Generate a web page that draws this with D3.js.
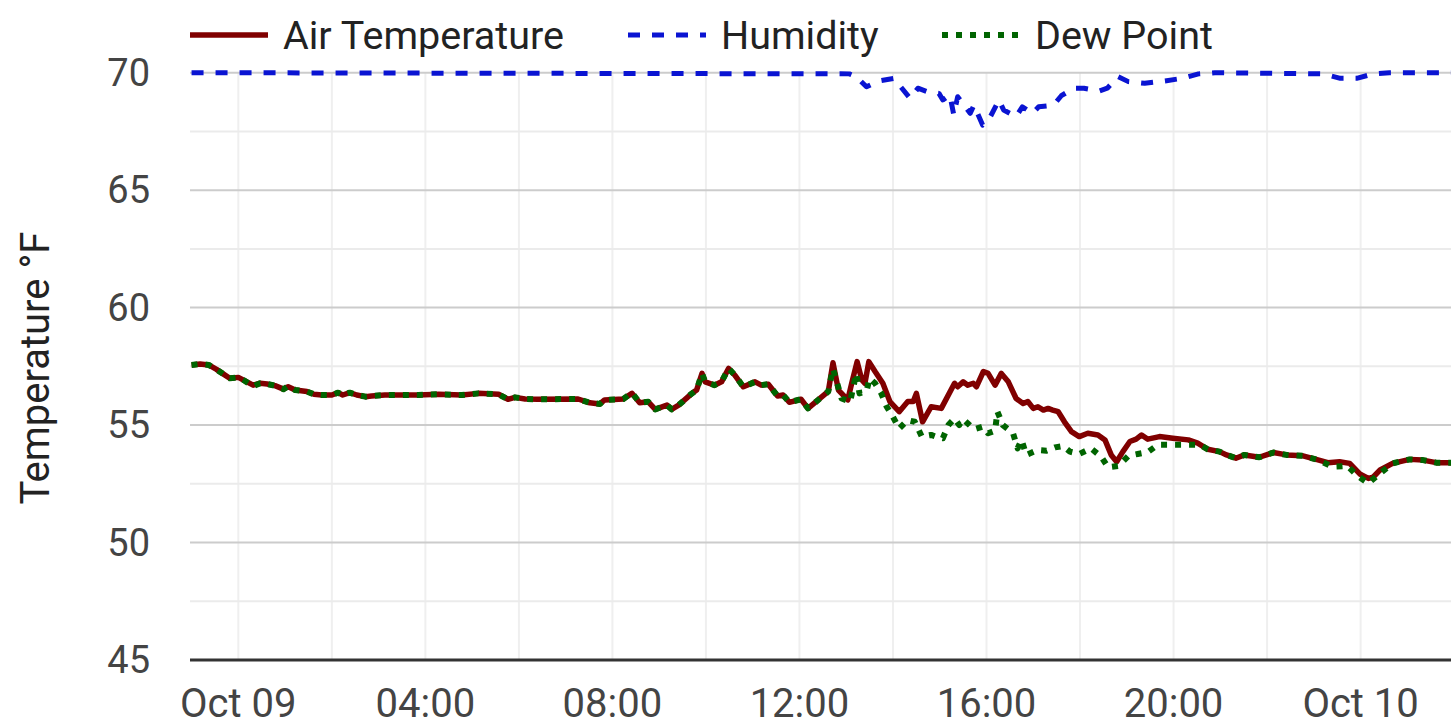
<!DOCTYPE html>
<html>
<head>
<meta charset="utf-8">
<script src="https://cdn.jsdelivr.net/npm/d3@7"></script>
<style>
  body { margin: 0; background: #fff; }
  svg { display: block; font-family: Roboto, "Noto Sans", sans-serif; }
</style>
</head>
<body>
<div id="chart"></div>
<script>
// series names for the legend
var seriesNames = ["Air Temperature", "Humidity", "Dew Point"];

// air temperature
var airTimes = ["10-08 23:00","10-08 23:11","10-08 23:22","10-08 23:32","10-08 23:41","10-08 23:49",
  "10-09 00:00","10-09 00:08","10-09 00:19","10-09 00:28","10-09 00:37","10-09 00:47","10-09 00:58",
  "10-09 01:04","10-09 01:13","10-09 01:28","10-09 01:37","10-09 01:47","10-09 02:00","10-09 02:08",
  "10-09 02:14","10-09 02:23","10-09 02:32","10-09 02:43","10-09 02:51","10-09 03:08","10-09 03:51",
  "10-09 04:17","10-09 04:47","10-09 05:08","10-09 05:34","10-09 05:46","10-09 05:55","10-09 06:08",
  "10-09 06:25","10-09 07:16","10-09 07:31","10-09 07:44","10-09 07:50","10-09 08:14","10-09 08:25",
  "10-09 08:35","10-09 08:46","10-09 08:55","10-09 09:10","10-09 09:16","10-09 09:25","10-09 09:41",
  "10-09 09:48","10-09 09:55","10-09 09:59","10-09 10:11","10-09 10:20","10-09 10:29","10-09 10:37",
  "10-09 10:48","10-09 11:03","10-09 11:11","10-09 11:20","10-09 11:32","10-09 11:39","10-09 11:47",
  "10-09 12:02","10-09 12:11","10-09 12:24","10-09 12:37","10-09 12:43","10-09 12:50","10-09 13:02",
  "10-09 13:07","10-09 13:14","10-09 13:20","10-09 13:24","10-09 13:29","10-09 13:37","10-09 13:47",
  "10-09 13:56","10-09 14:08","10-09 14:19","10-09 14:26","10-09 14:30","10-09 14:38","10-09 14:49",
  "10-09 15:02","10-09 15:19","10-09 15:23","10-09 15:30","10-09 15:36","10-09 15:43","10-09 15:47",
  "10-09 15:56","10-09 16:02","10-09 16:11","10-09 16:19","10-09 16:28","10-09 16:38","10-09 16:47",
  "10-09 16:53","10-09 17:00","10-09 17:06","10-09 17:13","10-09 17:19","10-09 17:25","10-09 17:32",
  "10-09 17:40","10-09 17:49","10-09 17:59","10-09 18:10","10-09 18:23","10-09 18:32","10-09 18:40",
  "10-09 18:47","10-09 18:55","10-09 19:04","10-09 19:12","10-09 19:19","10-09 19:27","10-09 19:42",
  "10-09 19:59","10-09 20:19","10-09 20:31","10-09 20:44","10-09 20:59","10-09 21:08","10-09 21:20",
  "10-09 21:31","10-09 21:50","10-09 22:08","10-09 22:25","10-09 22:46","10-09 23:03","10-09 23:18",
  "10-09 23:33","10-09 23:46","10-09 23:59","10-10 00:10","10-10 00:16","10-10 00:25","10-10 00:41",
  "10-10 01:03","10-10 01:20","10-10 01:37","10-10 01:56"];
var airTemp = [57.56,57.60,57.56,57.37,57.17,56.99,
  57.03,56.89,56.70,56.78,56.75,56.68,56.53,
  56.63,56.49,56.43,56.31,56.28,56.28,56.38,
  56.28,56.38,56.28,56.21,56.24,56.28,56.28,
  56.31,56.28,56.35,56.31,56.10,56.18,56.11,
  56.10,56.11,55.95,55.90,56.07,56.11,56.35,
  55.95,55.99,55.67,55.85,55.67,55.85,56.32,
  56.49,57.20,56.84,56.70,56.84,57.41,57.13,
  56.63,56.84,56.70,56.74,56.24,56.28,55.97,
  56.10,55.71,56.07,56.43,57.65,56.49,56.07,
  56.78,57.70,56.92,56.78,57.70,57.28,56.78,
  56.00,55.57,56.00,56.00,56.35,55.14,55.78,
  55.71,56.78,56.63,56.84,56.70,56.78,56.63,
  57.28,57.20,56.70,57.20,56.84,56.13,55.92,
  56.00,55.71,55.78,55.64,55.71,55.64,55.57,
  55.14,54.72,54.51,54.65,54.58,54.37,53.73,
  53.44,53.87,54.30,54.40,54.58,54.40,54.51,
  54.44,54.37,54.23,53.97,53.87,53.73,53.59,
  53.73,53.63,53.83,53.73,53.69,53.54,53.40,
  53.44,53.37,52.92,52.73,52.78,53.09,53.37,
  53.54,53.51,53.40,53.40];

// dew point
var dewTimes = ["10-08 23:00","10-08 23:11","10-08 23:22","10-08 23:32","10-08 23:41","10-08 23:49",
  "10-09 00:00","10-09 00:08","10-09 00:19","10-09 00:28","10-09 00:37","10-09 00:47","10-09 00:58",
  "10-09 01:04","10-09 01:13","10-09 01:28","10-09 01:37","10-09 01:47","10-09 02:00","10-09 02:08",
  "10-09 02:14","10-09 02:23","10-09 02:32","10-09 02:43","10-09 02:51","10-09 03:08","10-09 03:51",
  "10-09 04:17","10-09 04:47","10-09 05:08","10-09 05:34","10-09 05:46","10-09 05:55","10-09 06:08",
  "10-09 06:25","10-09 07:16","10-09 07:31","10-09 07:44","10-09 07:50","10-09 08:14","10-09 08:25",
  "10-09 08:35","10-09 08:46","10-09 08:55","10-09 09:10","10-09 09:16","10-09 09:25","10-09 09:41",
  "10-09 09:48","10-09 09:55","10-09 09:59","10-09 10:11","10-09 10:20","10-09 10:29","10-09 10:37",
  "10-09 10:48","10-09 11:03","10-09 11:11","10-09 11:20","10-09 11:32","10-09 11:39","10-09 11:47",
  "10-09 12:02","10-09 12:11","10-09 12:24","10-09 12:37","10-09 12:43","10-09 12:54","10-09 13:05",
  "10-09 13:13","10-09 13:17","10-09 13:26","10-09 13:30","10-09 13:37","10-09 13:45","10-09 13:52",
  "10-09 14:00","10-09 14:08","10-09 14:19","10-09 14:28","10-09 14:37","10-09 14:49","10-09 14:55",
  "10-09 15:04","10-09 15:11","10-09 15:19","10-09 15:25","10-09 15:30","10-09 15:36","10-09 15:44",
  "10-09 15:55","10-09 16:02","10-09 16:11","10-09 16:14","10-09 16:21","10-09 16:34","10-09 16:40",
  "10-09 16:45","10-09 16:51","10-09 17:06","10-09 17:17","10-09 17:28","10-09 17:38","10-09 17:47",
  "10-09 17:59","10-09 18:14","10-09 18:27","10-09 18:36","10-09 18:49","10-09 19:02","10-09 19:14",
  "10-09 19:27","10-09 19:40","10-09 19:59","10-09 20:19","10-09 20:34","10-09 20:44","10-09 20:59",
  "10-09 21:08","10-09 21:20","10-09 21:31","10-09 21:50","10-09 22:08","10-09 22:25","10-09 22:46",
  "10-09 23:03","10-09 23:24","10-09 23:43","10-09 23:56","10-10 00:10","10-10 00:22","10-10 00:41",
  "10-10 01:03","10-10 01:20","10-10 01:37","10-10 01:56"];
var dewPoint = [57.56,57.60,57.56,57.37,57.17,56.99,
  57.03,56.89,56.65,56.78,56.75,56.68,56.53,
  56.66,56.49,56.43,56.31,56.28,56.28,56.38,
  56.28,56.38,56.28,56.21,56.24,56.28,56.28,
  56.31,56.28,56.35,56.31,56.10,56.18,56.11,
  56.10,56.11,55.95,55.90,56.07,56.11,56.38,
  55.95,55.99,55.67,55.85,55.67,55.85,56.32,
  56.49,57.20,56.84,56.70,56.84,57.41,57.13,
  56.63,56.84,56.70,56.74,56.24,56.28,55.97,
  56.10,55.71,56.07,56.43,57.40,56.13,56.00,
  57.20,56.35,56.43,56.99,56.78,56.35,55.78,
  55.35,54.85,55.21,55.14,54.51,54.58,54.51,
  54.44,55.00,55.28,55.00,55.25,55.07,54.82,
  54.93,54.65,54.76,55.57,55.00,54.65,54.01,
  54.37,53.73,53.94,53.91,54.05,54.11,53.87,
  53.77,54.01,53.66,53.20,53.26,53.69,53.77,
  53.85,54.16,54.16,54.16,54.16,53.97,53.87,
  53.73,53.59,53.73,53.63,53.83,53.73,53.69,
  53.54,53.23,53.26,52.84,52.52,52.87,53.37,
  53.54,53.51,53.40,53.40];

// humidity, drawn on the same axis as in the picture
var humTimes = ["10-08 23:00","10-09 13:04","10-09 13:13","10-09 13:26","10-09 13:42","10-09 14:01",
  "10-09 14:22","10-09 14:32","10-09 14:46","10-09 14:59","10-09 15:04","10-09 15:13","10-09 15:18",
  "10-09 15:23","10-09 15:39","10-09 15:44","10-09 15:55","10-09 16:05","10-09 16:16","10-09 16:22",
  "10-09 16:38","10-09 16:46","10-09 16:59","10-09 17:07","10-09 17:26","10-09 17:36","10-09 17:52",
  "10-09 18:05","10-09 18:25","10-09 18:35","10-09 18:49","10-09 19:02","10-09 19:23","10-09 19:49",
  "10-09 20:11","10-09 20:32","10-09 20:53","10-09 23:12","10-09 23:34","10-09 23:55","10-10 00:16",
  "10-10 00:37","10-10 01:56"];
var humidity = [70,69.95,69.83,69.40,69.65,69.76,
  68.91,69.34,69.17,69.12,68.84,69.05,68.20,
  68.98,68.27,68.62,67.77,68.13,68.84,68.41,
  68.13,68.55,68.27,68.55,68.62,69.02,69.34,
  69.34,69.22,69.34,69.83,69.62,69.55,69.65,
  69.76,69.95,70,69.95,69.76,69.76,69.95,
  70,70];

var yTicks = [45, 50, 55, 60, 65, 70];
var yMinor = [47.5, 52.5, 57.5, 62.5, 67.5];
var xStart = "10-08 22:58", xEnd = "10-10 01:56";

var parseTime = d3.timeParse("%Y-%m-%d %H:%M");
function toDate(s) { return parseTime("2023-" + s); }

var svgWidth = 1451, svgHeight = 721;
var plot = { left: 190, right: 1451, top: 72.7, bottom: 660 };

var svg = d3.select("#chart").append("svg")
  .attr("width", svgWidth)
  .attr("height", svgHeight);

var x = d3.scaleTime()
  .domain([toDate(xStart), toDate(xEnd)])
  .range([plot.left, plot.right]);

var y = d3.scaleLinear()
  .domain([45, 70])
  .range([plot.bottom, plot.top]);

var t0 = toDate("10-09 00:00");
var gridTimes = d3.timeHour.every(2).range(t0, toDate(xEnd));
var labelTimes = d3.timeHour.every(4).range(t0, toDate(xEnd));

// vertical grid
svg.append("g").selectAll("line")
  .data(gridTimes)
  .enter().append("line")
  .attr("x1", d => x(d)).attr("x2", d => x(d))
  .attr("y1", plot.top).attr("y2", plot.bottom)
  .attr("stroke", "#efefef")
  .attr("stroke-width", 2);

// minor horizontal grid
svg.append("g").selectAll("line")
  .data(yMinor)
  .enter().append("line")
  .attr("x1", plot.left).attr("x2", plot.right)
  .attr("y1", d => y(d)).attr("y2", d => y(d))
  .attr("stroke", "#ebebeb")
  .attr("stroke-width", 2);

// major horizontal grid
svg.append("g").selectAll("line")
  .data(yTicks.slice(1))
  .enter().append("line")
  .attr("x1", plot.left).attr("x2", plot.right)
  .attr("y1", d => y(d)).attr("y2", d => y(d))
  .attr("stroke", "#cccccc")
  .attr("stroke-width", 2);

// x axis line
svg.append("line")
  .attr("x1", plot.left).attr("x2", plot.right)
  .attr("y1", plot.bottom).attr("y2", plot.bottom)
  .attr("stroke", "#333")
  .attr("stroke-width", 3);

// y tick labels
svg.append("g").selectAll("text")
  .data(yTicks)
  .enter().append("text")
  .attr("x", 150)
  .attr("y", d => y(d))
  .attr("dy", "0.35em")
  .attr("text-anchor", "end")
  .attr("fill", "#444")
  .style("font-size", "38px")
  .text(d => d);

// x tick labels
var fmt = function (d) {
  return d.getHours() === 0 ? d3.timeFormat("%b %d")(d) : d3.timeFormat("%H:%M")(d);
};
svg.append("g").selectAll("text")
  .data(labelTimes)
  .enter().append("text")
  .attr("x", d => x(d))
  .attr("y", 717)
  .attr("text-anchor", "middle")
  .attr("fill", "#444")
  .style("font-size", "40px")
  .text(fmt);

// y axis title
svg.append("text")
  .attr("transform", "translate(49, 368) rotate(-90)")
  .attr("text-anchor", "middle")
  .attr("fill", "#222")
  .style("font-size", "40px")
  .text("Temperature °F");

// build the series
function toPoints(times, vals) {
  return times.map((t, i) => ({ t: toDate(t), v: vals[i] }));
}
var series = [
  { name: seriesNames[0], pts: toPoints(airTimes, airTemp), color: "#800000", width: 5.5, dash: null },
  { name: seriesNames[1], pts: toPoints(humTimes, humidity), color: "#0a14d2", width: 5, dash: "12,12" },
  { name: seriesNames[2], pts: toPoints(dewTimes, dewPoint), color: "#006400", width: 6, dash: "6,8" }
];

var line = d3.line()
  .x(d => x(d.t))
  .y(d => y(d.v));

series.forEach(function (s) {
  svg.append("path")
    .datum(s.pts)
    .attr("fill", "none")
    .attr("stroke", s.color)
    .attr("stroke-width", s.width)
    .attr("stroke-linejoin", "round")
    .attr("stroke-dasharray", s.dash)
    .attr("d", line);
});

// legend
var legendX = [190, 628, 942];
var legend = svg.append("g").selectAll("g")
  .data(series)
  .enter().append("g")
  .attr("transform", (d, i) => `translate(${legendX[i]}, 35)`);

legend.append("line")
  .attr("x1", 0).attr("x2", 78)
  .attr("stroke", d => d.color)
  .attr("stroke-width", d => d.width)
  .attr("stroke-dasharray", d => d.dash);

legend.append("text")
  .attr("x", 93)
  .attr("dy", "0.35em")
  .attr("fill", "#222")
  .style("font-size", "39.5px")
  .text(d => d.name);
</script>
</body>
</html>
